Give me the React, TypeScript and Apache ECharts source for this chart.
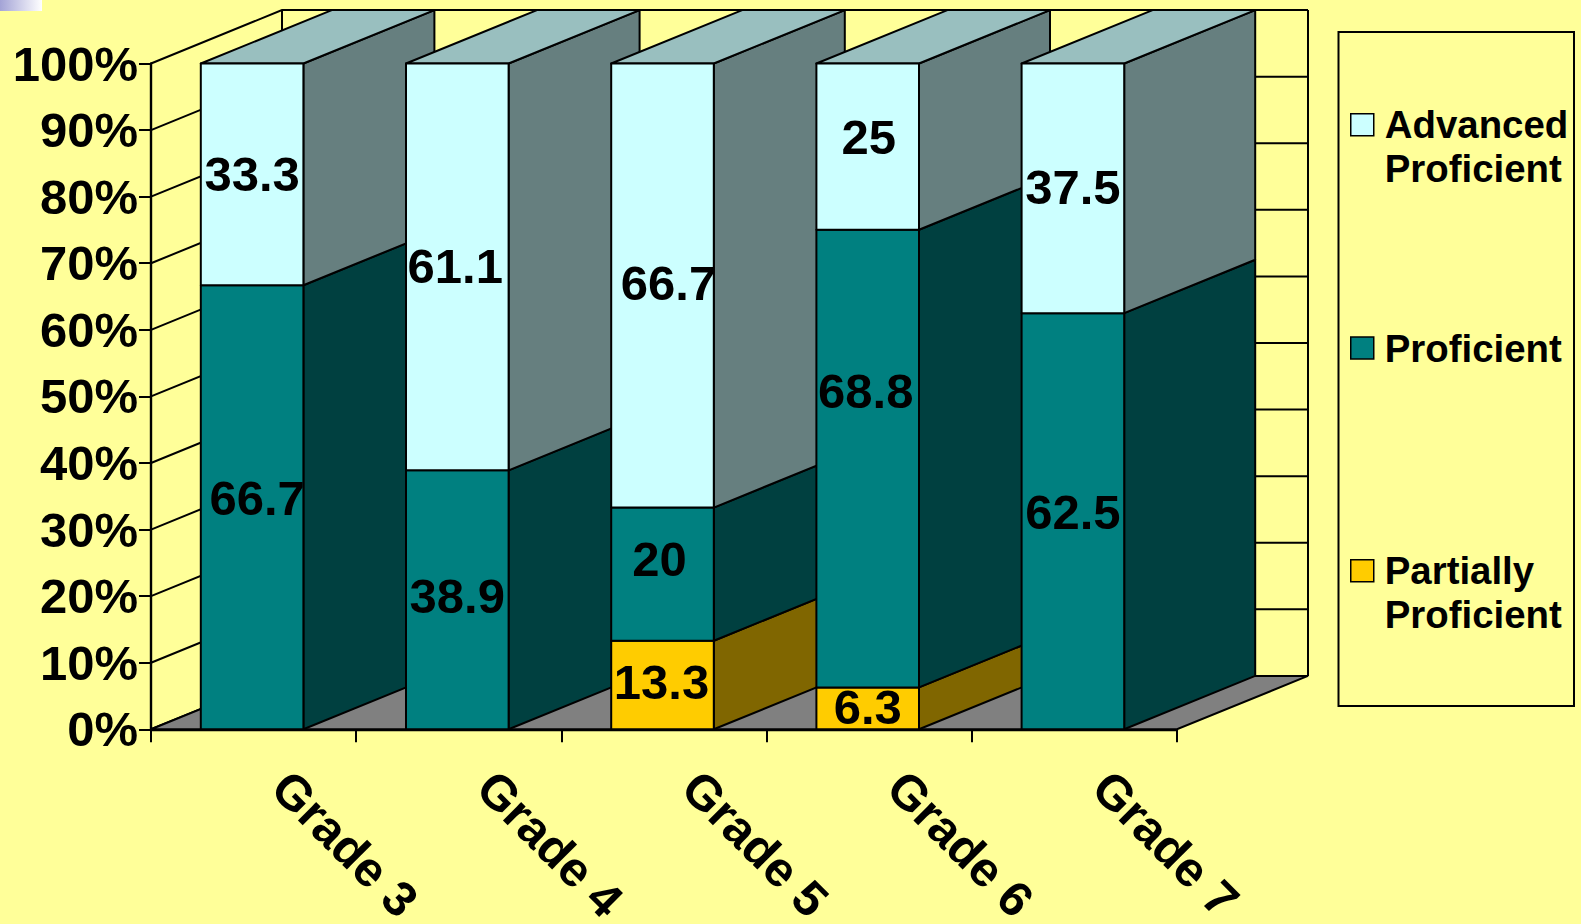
import React, { useEffect, useRef } from "react";
import * as echarts from "echarts";

const categories = ["Grade 3", "Grade 4", "Grade 5", "Grade 6", "Grade 7"];
const partiallyProficient = [0, 0, 13.3, 6.3, 0];
const proficient = [66.7, 38.9, 20, 68.8, 62.5];
const advancedProficient = [33.3, 61.1, 66.7, 25, 37.5];
const yTicks = [0, 10, 20, 30, 40, 50, 60, 70, 80, 90, 100];
const seriesNames = ["Partially Proficient", "Proficient", "Advanced Proficient"];
const legendLines: Record<string, string[]> = {
  "Partially Proficient": ["Partially", "Proficient"],
  Proficient: ["Proficient"],
  "Advanced Proficient": ["Advanced", "Proficient"],
};

// Hand-placed label offsets of the original slide, in px from the middle of each block
const partialNudge = [[0, 0], [0, 0], [-1, -3], [0, -1], [0, 0]];
const proficientNudge = [[5, -9], [0, -4], [-3, -15], [-2, -68], [0, -9]];
const advancedNudge = [[0, 0], [-2, -1], [6, -3], [1, -10], [0, -1]];

const BG = "#FFFF99";
const DEPTH_X = 131;
const DEPTH_Y = 53.4;
const LINE = 2;
const FONT = '"Liberation Sans", Arial, sans-serif';

const faces = [
  { front: "#FFCC00", side: "#806600", top: "#BF9900" },
  { front: "#008080", side: "#004040", top: "#006060" },
  { front: "#CCFFFF", side: "#667F7F", top: "#99BFBF" },
];
const levels = [partiallyProficient, proficient, advancedProficient];
const nudges = [partialNudge, proficientNudge, advancedNudge];

function rows(level: number) {
  return categories.map((_, i) => {
    const total = levels.reduce((s, l) => s + l[i], 0);
    let below = 0;
    for (let k = 0; k < level; k++) below += levels[k][i];
    const v = levels[level][i];
    return [i, (below / total) * 100, ((below + v) / total) * 100, v];
  });
}

function barSeries(level: number) {
  const face = faces[level];
  const nudge = nudges[level];
  return {
    type: "custom",
    name: seriesNames[level],
    coordinateSystem: "cartesian2d",
    silent: true,
    z: 3,
    itemStyle: { color: face.front },
    encode: { x: 0, y: 2 },
    data: rows(level),
    renderItem: (_: any, api: any) => {
      const i = api.value(0);
      const value = api.value(3);
      if (!value) return null;
      const start = api.coord([i, api.value(1)]);
      const end = api.coord([i, api.value(2)]);
      const half = api.size([1, 0])[0] / 4;
      const x0 = start[0] - half - 1.5;
      const x1 = start[0] + half - 1.5;
      const yb = start[1];
      const yt = end[1];
      const border = { stroke: "#000", lineWidth: LINE, lineJoin: "round" };
      const order = i * 10 + level;
      const children: any[] = [
        {
          type: "polygon",
          z2: order,
          shape: { points: [[x1, yb], [x1, yt], [x1 + DEPTH_X, yt - DEPTH_Y], [x1 + DEPTH_X, yb - DEPTH_Y]] },
          style: { fill: face.side, ...border },
        },
        {
          type: "polygon",
          z2: order,
          shape: { points: [[x0, yb], [x1, yb], [x1, yt], [x0, yt]] },
          style: { fill: face.front, ...border },
        },
        {
          type: "text",
          z2: 1000,
          x: (x0 + x1) / 2 + nudge[i][0],
          y: (yb + yt) / 2 + nudge[i][1],
          style: {
            text: String(value),
            fill: "#000",
            font: `bold 49px ${FONT}`,
            align: "center",
            verticalAlign: "middle",
          },
        },
      ];
      if (api.value(2) > 99.99) {
        children.splice(1, 0, {
          type: "polygon",
          z2: order,
          shape: { points: [[x0, yt], [x1, yt], [x1 + DEPTH_X, yt - DEPTH_Y], [x0 + DEPTH_X, yt - DEPTH_Y]] },
          style: { fill: face.top, ...border },
        });
      }
      return { type: "group", children };
    },
  };
}

const wallSeries = {
  type: "custom",
  name: "walls",
  coordinateSystem: "cartesian2d",
  silent: true,
  z: 2,
  encode: { x: 0, y: 1 },
  data: yTicks.map((t) => [0, t]),
  renderItem: (_: any, api: any) => {
    const v = api.value(1);
    const band = api.size([1, 0])[0];
    const left = api.coord([0, v])[0] - band / 2;
    const right = api.coord([categories.length - 1, v])[0] + band / 2;
    const y = api.coord([0, v])[1];
    const line = { stroke: "#000", lineWidth: LINE, fill: "none" };
    const children: any[] = [
      {
        type: "polyline",
        shape: { points: [[left, y], [left + DEPTH_X, y - DEPTH_Y], [right + DEPTH_X, y - DEPTH_Y]] },
        style: line,
      },
    ];
    if (v === 0) {
      const yTop = api.coord([0, 100])[1];
      children.push(
        {
          type: "polyline",
          shape: { points: [[left + DEPTH_X, yTop - DEPTH_Y], [left + DEPTH_X, y - DEPTH_Y]] },
          style: line,
        },
        {
          type: "polyline",
          shape: { points: [[right + DEPTH_X, yTop - DEPTH_Y], [right + DEPTH_X, y - DEPTH_Y]] },
          style: line,
        },
        {
          type: "polygon",
          z2: 2,
          shape: { points: [[left, y], [right, y], [right + DEPTH_X, y - DEPTH_Y], [left + DEPTH_X, y - DEPTH_Y]] },
          style: { fill: "#808080", stroke: "#000", lineWidth: LINE },
        }
      );
    }
    return { type: "group", children };
  },
};

function legendFor(name: string, top: number) {
  const lines = legendLines[name];
  return {
    data: [name],
    left: 1350,
    top,
    padding: 0,
    orient: "vertical",
    icon: "rect",
    itemWidth: 23,
    itemHeight: 22,
    itemGap: 0,
    selectedMode: false,
    // A blank first line puts the swatch level with the first real line of a two-line name
    formatter: () =>
      (lines.length > 1 ? ["{t| }", ...lines.map((l) => `{t|${l}}`)] : lines.map((l) => `{t|${l}}`)).join("\n"),
    itemStyle: { borderColor: "#000", borderWidth: 1.5 },
    textStyle: {
      color: "#000",
      rich: {
        t: {
          color: "#000",
          fontFamily: FONT,
          fontWeight: "bold",
          fontSize: 38.4,
          lineHeight: 43.8,
          padding: [0, 0, 0, 6],
        },
      },
    },
  };
}

export default function App() {
  const ref = useRef<HTMLDivElement>(null);
  useEffect(() => {
    document.body.style.margin = "0";
    document.body.style.background = BG;
    const chart = echarts.init(ref.current!, null, { renderer: "svg" });
    chart.setOption({
      animation: false,
      backgroundColor: BG,
      textStyle: { fontFamily: FONT },
      grid: { left: 151, top: 63.5, width: 1026, height: 665.8, containLabel: false, outerBoundsMode: "none" },
      legend: [
        legendFor("Advanced Proficient", 62),
        legendFor("Proficient", 329),
        legendFor("Partially Proficient", 508),
      ],
      graphic: [
        {
          type: "rect",
          shape: { x: 1338.5, y: 32, width: 235.5, height: 674 },
          style: { fill: "none", stroke: "#000", lineWidth: LINE },
        },
        {
          type: "rect",
          shape: { x: 0, y: 0, width: 42, height: 11 },
          style: {
            fill: new echarts.graphic.LinearGradient(0, 0, 1, 0, [
              { offset: 0, color: "#A3A3D6" },
              { offset: 1, color: "#FFFFFF" },
            ]),
          },
        },
      ],
      xAxis: {
        type: "category",
        data: categories,
        axisLine: { lineStyle: { color: "#000", width: 2.4 } },
        axisTick: { show: true, interval: 0, length: 13, lineStyle: { color: "#000", width: 2 } },
        axisLabel: {
          interval: 0,
          rotate: -45,
          margin: 23,
          padding: [0, 0, 0, 38],
          lineHeight: 36,
          color: "#000",
          fontFamily: FONT,
          fontWeight: "bold",
          fontSize: 49,
        },
        splitLine: { show: false },
      },
      yAxis: {
        type: "value",
        min: 0,
        max: 100,
        interval: 10,
        axisLine: { show: true, lineStyle: { color: "#000", width: 2.4 } },
        axisTick: { show: true, length: 12, lineStyle: { color: "#000", width: 2 } },
        axisLabel: {
          formatter: "{value}%",
          margin: 13,
          color: "#000",
          fontFamily: FONT,
          fontWeight: "bold",
          fontSize: 49,
        },
        splitLine: { show: false },
      },
      series: [wallSeries, barSeries(0), barSeries(1), barSeries(2)],
    });
    return () => chart.dispose();
  }, []);
  return <div ref={ref} style={{ position: "fixed", left: 0, top: 0, width: 1581, height: 924 }} />;
}
